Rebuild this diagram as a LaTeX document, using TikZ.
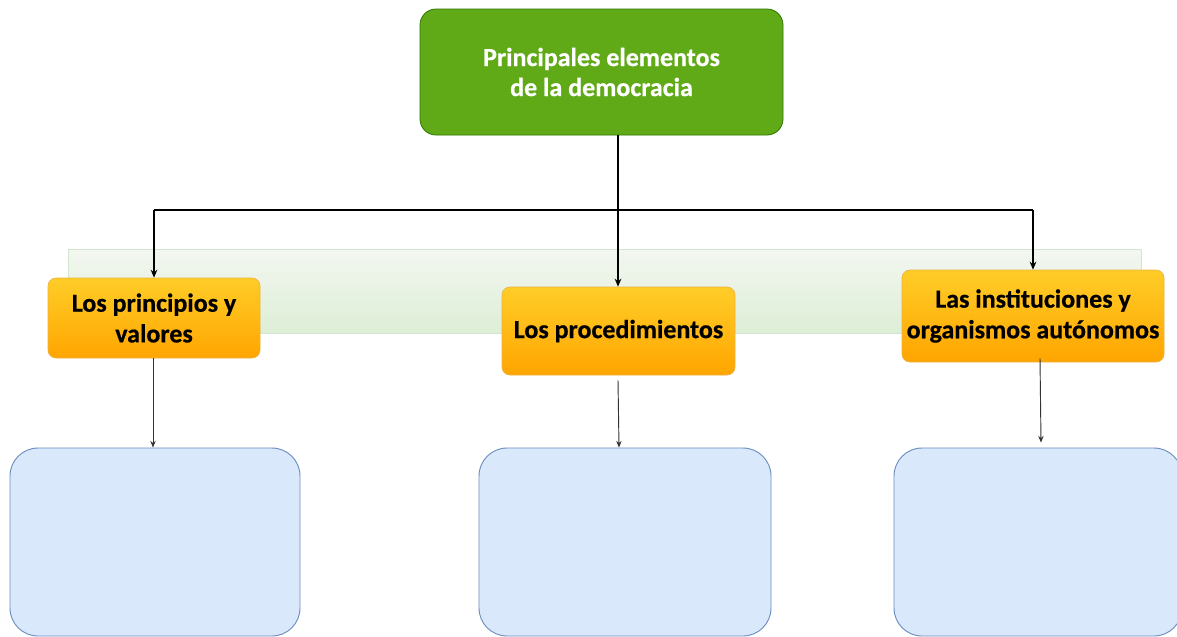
\documentclass[tikz,border=0pt]{standalone}
\usepackage{fontspec}
\setmainfont{Carlito}[BoldFeatures={FakeBold=0.6}]
\usetikzlibrary{arrows.meta}
\definecolor{topgreen}{HTML}{60A917}
\definecolor{topgreenline}{HTML}{2D7600}
\definecolor{bandtop}{HTML}{F3F7F0}
\definecolor{bandbot}{HTML}{DDEED6}
\definecolor{bandline}{HTML}{D2E6CE}
\definecolor{orangetop}{HTML}{FFCD28}
\definecolor{orangebot}{HTML}{FFA500}
\definecolor{orangeline}{HTML}{F0B040}
\definecolor{bluefill}{HTML}{DAE8FC}
\definecolor{blueline}{HTML}{6C8EBF}
\tikzset{
  rootbox/.style={draw=topgreenline, line width=0.6pt, fill=topgreen, rounded corners=12pt,
    text=white, font=\bfseries\fontsize{19.5}{22.5}\selectfont, align=center, inner sep=0pt},
  catbox/.style={draw=orangeline, line width=0.5pt, top color=orangetop, bottom color=orangebot,
    rounded corners=6pt, text=black, font=\bfseries\fontsize{19.5}{23}\selectfont, align=center, inner sep=0pt},
  emptybox/.style={draw=blueline, line width=0.7pt, fill=bluefill, rounded corners=21pt, inner sep=0pt},
  bandbox/.style={draw=bandline, line width=0.5pt, top color=bandtop, bottom color=bandbot, inner sep=0pt},
  mainline/.style={draw=black, line width=1.5pt},
  branch/.style={draw=black, line width=1.1pt, -{Stealth[length=6pt,width=5pt]}},
  thinarrow/.style={draw=black!80, line width=0.7pt, -{Stealth[length=5pt,width=4pt]}},
}
\begin{document}
\begin{tikzpicture}[x=0.75pt,y=-0.75pt]
\useasboundingbox (0,0) rectangle (1177,636);
\clip (0,0) rectangle (1177,636);
\fill[white] (0,0) rectangle (1177,636);
% background band
\node[bandbox, minimum width=804.75pt, minimum height=63pt] (band) at (604.5,291) {};
% root
\node[rootbox, minimum width=272.25pt, minimum height=94.5pt] (root) at (601.5,72) {Principales elementos\\de la democracia};
% categories
\node[catbox, minimum width=159pt, minimum height=60pt] (l) at (154,318) {Los principios y\\valores};
\node[catbox, minimum width=174.75pt, minimum height=66pt] (m) at (618.5,331) {Los procedimientos};
\node[catbox, minimum width=196.5pt, minimum height=69pt] (r) at (1033,316) {Las instituciones y\\organismos autónomos};
% empty boxes
\node[emptybox, minimum width=217.5pt, minimum height=141pt] (lb) at (155,542) {};
\node[emptybox, minimum width=219pt, minimum height=141pt] (mb) at (625,542) {};
\node[emptybox, minimum width=216pt, minimum height=141pt] (rb) at (1038,542) {};
% connectors
\coordinate (j) at (618,210);
\draw[mainline] (root.south -| j) -- (j);
\draw[draw=black, line width=1.3pt] (l.north |- j) -- (r.north |- j);
\draw[branch] (l.north |- j) -- (l.north);
\draw[branch] (j) -- (m.north -| j);
\draw[branch] (r.north |- j) -- (r.north);
\draw[thinarrow] (l.south -| 153,0) -- (lb.north -| 153,0);
\draw[thinarrow] ([yshift=-3.75pt]m.south -| 618,0) -- (mb.north -| 619,0);
\draw[thinarrow] ([yshift=3pt]r.south -| 1040,0) -- ([yshift=3.75pt]rb.north -| 1041,0);
\end{tikzpicture}
\end{document}
